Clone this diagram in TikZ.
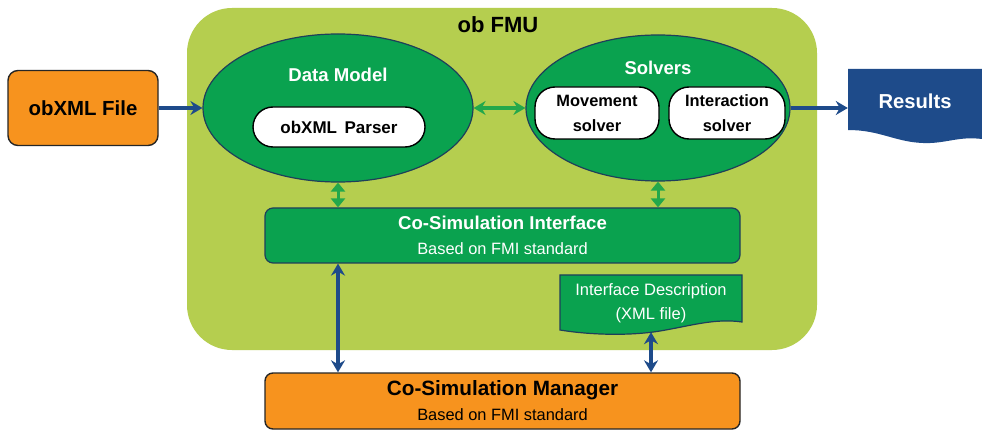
\documentclass[tikz,border=0pt]{standalone}
\usepackage{fontspec}
\setmainfont{Liberation Sans}
\usetikzlibrary{shapes.geometric,arrows.meta,calc}

\definecolor{fmugreen}{HTML}{B5CE4F}
\definecolor{modgreen}{HTML}{0AA24F}
\definecolor{boxorange}{HTML}{F7931E}
\definecolor{navy}{HTML}{1E4B8A}
\definecolor{linkgreen}{HTML}{23A84B}
\definecolor{edgeblue}{HTML}{1E3F5A}

\newcommand{\fs}[2]{\fontsize{#1}{#2}\selectfont}

\tikzset{
  orangebox/.style={draw=black!85, line width=1.4pt, fill=boxorange, rounded corners=10pt, inner sep=0pt},
  greenbox/.style={draw=edgeblue, line width=1.2pt, fill=modgreen, rounded corners=8pt, inner sep=0pt, text=white},
  modell/.style={ellipse, draw=edgeblue, line width=1.2pt, fill=modgreen, inner sep=0pt},
  whitebox/.style={draw=black, line width=1.4pt, fill=white, rounded corners=20pt, inner sep=0pt, align=center},
  whitelbl/.style={text=white, inner sep=0pt},
  navyarrow/.style={draw=navy, line width=3.2pt, arrows={-Stealth[length=12pt,width=14pt,inset=4pt]}},
  navybi/.style={draw=navy, line width=3.2pt, arrows={Stealth[length=12pt,width=14pt,inset=4pt]-Stealth[length=12pt,width=14pt,inset=4pt]}},
  greenbi/.style={draw=linkgreen, line width=3.2pt, arrows={Stealth[length=12pt,width=14pt,inset=4pt]-Stealth[length=12pt,width=14pt,inset=4pt]}},
  greenshort/.style={draw=linkgreen, line width=3pt, arrows={Triangle[length=9pt,width=14pt]-Triangle[length=9pt,width=14pt]}}
}

\begin{document}
\begin{tikzpicture}[x=1pt,y=-1pt]
\useasboundingbox[fill=white] (0,0) rectangle (982,430);

% FMU container
\fill[fmugreen, rounded corners=45pt] (187,8) rectangle (817,350);
\node[inner sep=0pt, font=\bfseries\fs{22}{26}] (title) at (498,25) {ob FMU};

% input file
\node[orangebox, minimum width=150pt, minimum height=75pt, font=\bfseries\fs{20.4}{24}] (file) at (83,108) {obXML File};

% data model
\node[modell, minimum width=270pt, minimum height=148pt] (dm) at (338,108) {};
\node[whitelbl, font=\bfseries\fs{18.6}{22}] (dmlbl) at (338,75) {Data Model};
\node[whitebox, minimum width=172pt, minimum height=40pt, font=\bfseries\fs{17}{20}] (parser) at (339,127) {obXML\, Parser};

% solvers
\node[modell, minimum width=264pt, minimum height=146pt] (sol) at (658,108) {};
\node[whitelbl, font=\bfseries\fs{18.5}{22}] (sollbl) at (658,68) {Solvers};
\node[whitebox, minimum width=124pt, minimum height=52pt, font=\bfseries\fs{16.4}{25}] (move) at (597,113) {Movement\\solver};
\node[whitebox, minimum width=116pt, minimum height=52pt, font=\bfseries\fs{16.4}{25}] (inter) at (727,113) {Interaction\\solver};

% results (wavy bottom)
\fill[navy] (848,69) -- (982,69) -- (982,139)
  .. controls (958,136) and (945,144) .. (923,143)
  .. controls (895,142) and (880,130) .. (848,130) -- cycle;
\node[whitelbl, minimum width=134pt, minimum height=60pt, font=\bfseries\fs{20.2}{24}] (res) at (915,101.5) {Results};

% co-simulation interface
\node[greenbox, minimum width=475pt, minimum height=55pt, align=center, font=\fs{16.4}{25}] (csi) at (502.5,235.5)
  {{\bfseries\fs{18.6}{25}Co-Simulation Interface}\\Based on FMI standard};

% interface description (document shape)
\filldraw[fill=modgreen, draw=edgeblue, line width=1.2pt] (560,275) -- (742,275) -- (742,322)
  .. controls (715,318) and (690,326) .. (660,331)
  .. controls (630,336) and (590,335) .. (560,330) -- cycle;
\node[whitelbl, minimum width=182pt, minimum height=58pt, align=center, font=\fs{16.5}{25}] (idesc) at (651,303)
  {Interface Description\\[-1pt](XML file)};

% co-simulation manager
\node[orangebox, rounded corners=8pt, minimum width=475pt, minimum height=56pt, align=center, font=\fs{16.4}{25}] (mgr) at (502.5,401)
  {{\bfseries\fs{20.7}{25}Co-Simulation Manager}\\Based on FMI standard};

% connectors
\draw[navyarrow] (file.east) -- (dm.west);
\draw[greenbi] (dm.east) -- (sol.west);
\draw[navyarrow] (sol.east) -- (sol.east -| res.west);
\draw[greenshort] (dm.south) -- (dm.south |- csi.north);
\draw[greenshort] (sol.south) -- (sol.south |- csi.north);
\draw[navybi] (csi.south -| dm.south) -- (mgr.north -| dm.south);
\draw[navybi] (idesc.south) -- (mgr.north -| idesc.south);
\end{tikzpicture}
\end{document}
